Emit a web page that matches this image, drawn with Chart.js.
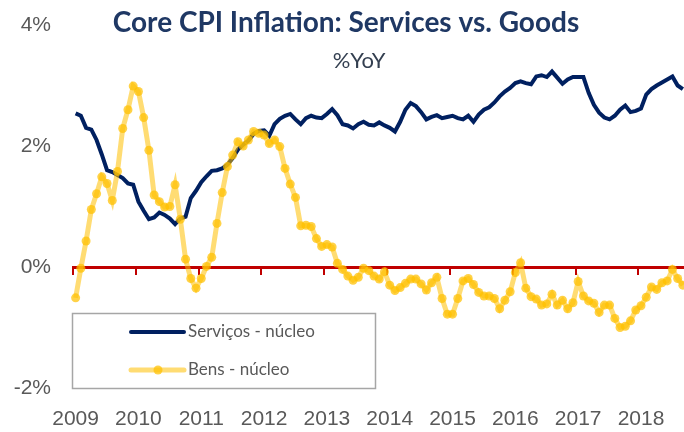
<!DOCTYPE html>
<html>
<head>
<meta charset="utf-8">
<script src="https://cdn.jsdelivr.net/npm/chart.js@4/dist/chart.umd.min.js"></script>
<style>
  html, body { margin: 0; padding: 0; background: #fff; overflow: hidden; }
  #wrap { position: relative; width: 690px; height: 432px; }
</style>
</head>
<body>
<div id="wrap"><canvas id="myChart"></canvas></div>
<script>
// year labels on the axis, monthly data Jan 2009 - Sep 2018
const years = ['2009', '2010', '2011', '2012', '2013', '2014', '2015', '2016', '2017', '2018'];
const yTicks = [-2, 0, 2, 4];

// Serviços - núcleo (% YoY)
const services = [
  2.54, 2.50, 2.30, 2.27, 2.10, 1.86, 1.60, 1.57, 1.52, 1.47, 1.38, 1.36,
  1.08, 0.93, 0.79, 0.82, 0.90, 0.86, 0.80, 0.71, 0.80, 0.83, 1.14, 1.26,
  1.40, 1.50, 1.59, 1.60, 1.63, 1.69, 1.80, 1.94, 2.02, 2.09, 2.20, 2.25,
  2.26, 2.17, 2.36, 2.45, 2.50, 2.53, 2.44, 2.36, 2.46, 2.50, 2.47, 2.46,
  2.53, 2.61, 2.51, 2.36, 2.34, 2.29, 2.36, 2.40, 2.35, 2.34, 2.39, 2.34,
  2.30, 2.24, 2.40, 2.60, 2.71, 2.66, 2.56, 2.44, 2.48, 2.51, 2.46, 2.48,
  2.50, 2.46, 2.44, 2.50, 2.40, 2.52, 2.60, 2.64, 2.72, 2.82, 2.90, 2.96,
  3.04, 3.07, 3.04, 3.02, 3.15, 3.17, 3.14, 3.23, 3.13, 3.03, 3.10, 3.14,
  3.14, 3.14, 2.88, 2.68, 2.55, 2.47, 2.44, 2.50, 2.60, 2.67, 2.56, 2.58,
  2.62, 2.85, 2.94, 3.00, 3.05, 3.10, 3.15, 3.00, 2.94
];

// Bens - núcleo (% YoY)
const goods = [
  -0.51, -0.02, 0.43, 0.95, 1.21, 1.49, 1.38, 1.10, 1.58, 2.29, 2.60, 2.99,
  2.90, 2.47, 1.93, 1.19, 1.08, 0.99, 1.00, 1.36, 0.79, 0.13, -0.19, -0.35,
  -0.19, 0.01, 0.16, 0.72, 1.23, 1.66, 1.85, 2.07, 2.00, 2.10, 2.24, 2.21,
  2.18, 2.04, 2.10, 1.99, 1.63, 1.37, 1.15, 0.68, 0.69, 0.67, 0.47, 0.34,
  0.37, 0.33, 0.06, -0.04, -0.15, -0.22, -0.17, -0.02, -0.06, -0.15, -0.20, -0.08,
  -0.30, -0.39, -0.34, -0.27, -0.20, -0.20, -0.28, -0.38, -0.26, -0.17, -0.52, -0.78,
  -0.78, -0.52, -0.23, -0.19, -0.29, -0.42, -0.48, -0.48, -0.52, -0.69, -0.55, -0.41,
  -0.09, 0.07, -0.35, -0.49, -0.53, -0.63, -0.61, -0.45, -0.63, -0.55, -0.69, -0.59,
  -0.24, -0.48, -0.56, -0.60, -0.75, -0.63, -0.63, -0.85, -1.00, -0.98, -0.89, -0.71,
  -0.64, -0.50, -0.33, -0.37, -0.26, -0.23, -0.04, -0.19, -0.30
];

// one category per month
const months = [];
for (let i = 0; i < services.length; i++) {
  const y = 2009 + Math.floor(i / 12);
  const m = (i % 12) + 1;
  months.push(y + '-' + (m < 10 ? '0' + m : m));
}

const NAVY = '#002060';
const GOLD_LINE = 'rgba(255, 192, 0, 0.55)';
const GOLD_POINT = 'rgba(255, 192, 0, 0.72)';
const GREY_TEXT = '#595959';

// title, subtitle and the boxed legend sit over the plot like in the excel original
const overlay = {
  id: 'overlay',
  afterDatasetsDraw(chart) {
    const ctx = chart.ctx;
    ctx.save();

    ctx.textAlign = 'center';
    ctx.textBaseline = 'middle';
    ctx.fillStyle = '#1F3864';
    ctx.font = 'bold 28px Lato';
    ctx.fillText('Core CPI Inflation: Services vs. Goods', 346, 23);
    ctx.fillStyle = '#333F50';
    ctx.font = '22px Lato';
    ctx.fillText('%YoY', 359, 61);

    // legend box
    ctx.fillStyle = '#fff';
    ctx.fillRect(72, 313, 303, 75);
    ctx.strokeStyle = '#A6A6A6';
    ctx.lineWidth = 1.5;
    ctx.strokeRect(72.5, 313.5, 303, 75);

    ctx.lineCap = 'round';
    ctx.strokeStyle = NAVY;
    ctx.lineWidth = 4;
    ctx.beginPath(); ctx.moveTo(131, 332); ctx.lineTo(184, 332); ctx.stroke();

    ctx.strokeStyle = GOLD_LINE;
    ctx.lineWidth = 5;
    ctx.beginPath(); ctx.moveTo(131, 370); ctx.lineTo(184, 370); ctx.stroke();
    ctx.fillStyle = GOLD_POINT;
    ctx.beginPath(); ctx.arc(158, 370, 4.5, 0, Math.PI * 2); ctx.fill();

    ctx.textAlign = 'left';
    ctx.fillStyle = GREY_TEXT;
    ctx.font = '17px Lato';
    ctx.fillText('Serviços - núcleo', 188, 332);
    ctx.fillText('Bens - núcleo', 188, 370);
    ctx.restore();
  }
};

const myChartRef = document.getElementById('myChart').getContext('2d');
const myChart = new Chart(myChartRef, {
  type: 'line',
  data: {
    labels: months,
    datasets: [
      {
        label: 'Bens - núcleo',
        data: goods,
        borderColor: GOLD_LINE,
        borderWidth: 5,
        pointRadius: 4.5,
        pointBorderWidth: 0,
        pointBackgroundColor: GOLD_POINT,
        tension: 0,
        order: 0
      },
      {
        label: 'Serviços - núcleo',
        data: services,
        borderColor: NAVY,
        borderWidth: 4,
        pointRadius: 0,
        tension: 0,
        order: 1
      }
    ]
  },
  options: {
    responsive: true,
    maintainAspectRatio: false,
    animation: false,
    layout: { padding: { top: 25, right: 4, bottom: 0, left: 0 } },
    plugins: {
      legend: { display: false },
      tooltip: { enabled: false }
    },
    scales: {
      x: {
        type: 'category',
        offset: true,
        grid: { display: false, drawTicks: false },
        border: { display: false },
        ticks: {
          autoSkip: false,
          maxRotation: 0,
          minRotation: 0,
          padding: 19,
          color: GREY_TEXT,
          font: { size: 21 },
          callback: (value, index) => (index % 12 === 0 ? years[index / 12] : '')
        },
        afterFit: (scale) => {
          scale.height = 44;
          scale.paddingLeft = 0;
          scale.paddingRight = 0;
        }
      },
      // red zero line with year tick marks
      x2: {
        type: 'category',
        position: { y: 0 },
        offset: true,
        ticks: { display: false, autoSkip: false },
        grid: {
          offset: true,
          drawOnChartArea: false,
          drawTicks: true,
          tickLength: 6,
          lineWidth: 2,
          color: (c) => (c.index % 12 === 0 ? '#C00000' : 'rgba(0,0,0,0)')
        },
        border: { display: true, color: '#C00000', width: 3 },
        afterFit: (scale) => {
          scale.paddingLeft = 0;
          scale.paddingRight = 0;
        }
      },
      y: {
        min: -2,
        max: 4,
        grid: { display: false, drawTicks: false },
        border: { display: false },
        afterBuildTicks: (scale) => { scale.ticks = yTicks.map(v => ({ value: v })); },
        ticks: {
          padding: 22,
          color: GREY_TEXT,
          font: { size: 21 },
          callback: (v) => v + '%'
        },
        afterFit: (scale) => {
          scale.width = 73;
          scale.paddingTop = 0;
          scale.paddingBottom = 0;
        }
      }
    }
  },
  plugins: [overlay]
});
</script>
</body>
</html>
